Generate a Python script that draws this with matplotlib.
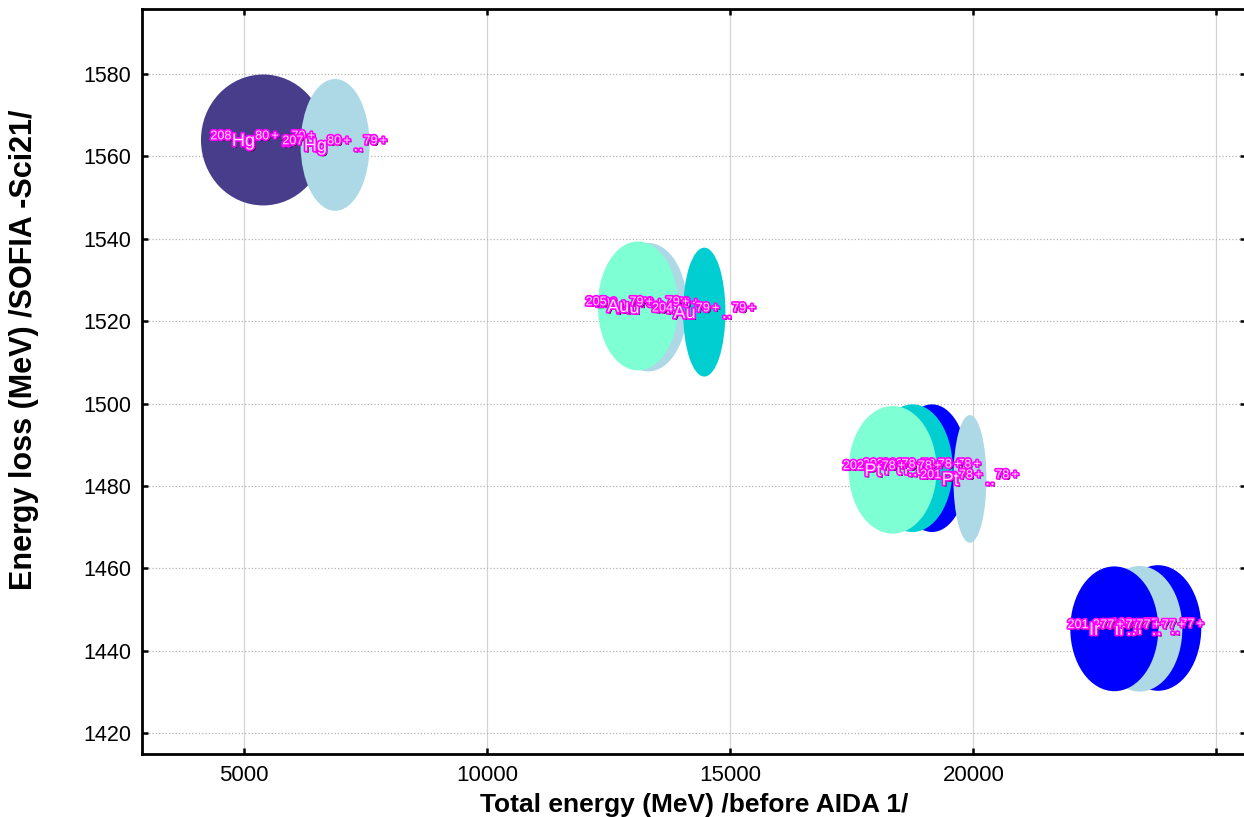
import matplotlib.pyplot as plt
import matplotlib.patheffects as pe
from matplotlib.patches import Ellipse

# isotope blobs: centre (total energy, energy loss), full spread in x and y
isotopes = ['208Hg', '207Hg',
            '206Au', '205Au', '204Au',
            '204Pt', '203Pt', '202Pt', '201Pt',
            '199Ir', '200Ir', '201Ir']
elements = ['Hg', 'Hg', 'Au', 'Au', 'Au', 'Pt', 'Pt', 'Pt', 'Pt', 'Ir', 'Ir', 'Ir']
mass = ['208', '207', '206', '205', '204', '203', '202', '202', '201', '199', '200', '201']
charge = ['80+', '80+', '79+', '79+', '79+', '78+', '78+', '78+', '78+', '77+', '77+', '77+']
charge2 = ['79+', '79+', '79+', '79+', '79+', '78+', '78+', '78+', '78+', '77+', '77+', '77+']
e_total = [5390, 6870, 13310, 13100, 14465, 19150, 18750, 18340, 19930, 23800, 23420, 22900]
e_loss = [1564.0, 1562.8, 1523.4, 1523.7, 1522.2, 1484.3, 1484.3, 1483.9, 1481.7, 1445.5, 1445.3, 1445.3]
spread_x = [2560, 1420, 1610, 1650, 870, 1480, 1650, 1810, 680, 1780, 1760, 1810]
spread_y = [31.8, 32.0, 31.2, 31.3, 31.3, 31.0, 31.0, 31.0, 31.0, 30.5, 30.5, 30.3]
colors = ['#483D8B', '#ADD8E6',
          '#ADD8E6', '#7FFFD4', '#00CED1',
          '#0000FF', '#00CED1', '#7FFFD4', '#ADD8E6',
          '#0000FF', '#ADD8E6', '#0000FF']

xticks = [5000, 10000, 15000, 20000, 25000]
xticklabels = ['5000', '10000', '15000', '20000', '']
yticks = [1420, 1440, 1460, 1480, 1500, 1520, 1540, 1560, 1580]

plt.rcParams['font.family'] = ['Liberation Sans', 'DejaVu Sans']
plt.rcParams['mathtext.fontset'] = 'custom'
plt.rcParams['mathtext.rm'] = 'Liberation Sans'
plt.rcParams['mathtext.it'] = 'Liberation Sans'

fig = plt.figure(figsize=(12.44, 8.17), dpi=100)
ax = fig.add_axes([142 / 1244, 1 - 754 / 817, 1 - 142 / 1244 + 0.002, (754 - 9) / 817])

for i in range(len(isotopes)):
    ax.add_patch(Ellipse((e_total[i], e_loss[i]), spread_x[i], spread_y[i],
                         facecolor=colors[i], edgecolor='none', zorder=2))

label_fx = [pe.withSimplePatchShadow(offset=(1.2, -1.2), shadow_rgbFace='black', alpha=1.0),
            pe.withStroke(linewidth=2.4, foreground='#FF00FF')]
for i in range(len(isotopes)):
    txt = r'$^{%s}$%s$^{%s}$..$^{%s}$' % (mass[i], elements[i], charge[i], charge2[i])
    ax.text(e_total[i], e_loss[i], txt, ha='center', va='center', fontsize=13,
            color='#FFE6FF', path_effects=label_fx, zorder=5)

ax.set_xlim(2897, 25620)
ax.set_ylim(1414.9, 1595.8)
ax.set_xticks(xticks)
ax.set_xticklabels(xticklabels)
ax.set_yticks(yticks)

ax.grid(axis='x', color='#d4d4d4', linestyle='-', linewidth=0.9, zorder=0)
ax.grid(axis='y', color='#b4b4b4', linestyle=':', linewidth=0.9, zorder=0)
ax.set_axisbelow(True)

ax.tick_params(direction='in', length=4, width=1.8, top=True, right=True,
               colors='black', pad=8)
ax.tick_params(axis='x', labelsize=16)
ax.tick_params(axis='y', labelsize=15.5)
for side in ['left', 'bottom', 'top']:
    ax.spines[side].set_linewidth(2)
ax.spines['right'].set_visible(False)

ax.set_xlabel('Total energy (MeV) /before AIDA 1/', fontsize=19, fontweight='bold', labelpad=5)
ax.set_ylabel('Energy loss (MeV) /SOFIA -Sci21/', fontsize=22, fontweight='bold')
ax.yaxis.set_label_coords(-0.093, 0.542)

fig.savefig('out.png', dpi=100)
